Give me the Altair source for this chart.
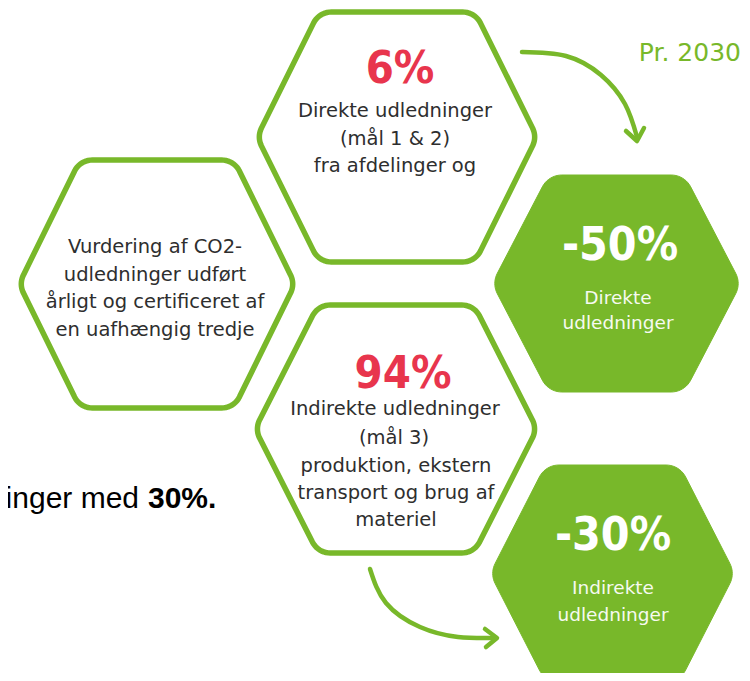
import math
import numpy as np
import pandas as pd
import altair as alt

# ---------------- values (text content of the infographic) ----------------
share_values = ["6%", "94%"]
share_lines = [
    ["Direkte udledninger", "(mål 1 & 2)", "fra afdelinger og"],
    ["Indirekte udledninger", "(mål 3)", "produktion, ekstern", "transport og brug af", "materiel"],
]
target_values = ["-50%", "-30%"]
target_lines = [["Direkte", "udledninger"], ["Indirekte", "udledninger"]]
method_lines = ["Vurdering af CO2-", "udledninger udført", "årligt og certificeret af", "en uafhængig tredje"]
horizon_label = "Pr. 2030"
side_regular = "inger med"
side_bold = "30%."

# ---------------- layout (image pixel coordinates) ----------------
GREEN = "#78b82a"
RED = "#e8354d"
DARK = "#2e2e2e"
WHITE_TXT = "#f6faf0"

# hexagon: (id, cx, cy, half-width, half-top, half-height, corner radius)
outline_hex = [
    ("top", 397, 137, 140, 78, 125, 20),
    ("left", 157, 284, 138, 77, 124, 20),
    ("bottom", 396, 429, 141, 78, 124, 20),
]
filled_hex = [
    ("t50", 616.5, 283.5, 124.5, 68, 108.5, 22),
    ("t30", 612.5, 573.5, 122.5, 67, 108.5, 22),
]


def rounded_poly(verts, r, n=10):
    pts = []
    m = len(verts)
    for i in range(m):
        V = np.array(verts[i], float)
        P = np.array(verts[i - 1], float)
        N = np.array(verts[(i + 1) % m], float)
        u1 = (P - V) / np.linalg.norm(P - V)
        u2 = (N - V) / np.linalg.norm(N - V)
        ang = math.acos(float(np.clip(np.dot(u1, u2), -1, 1)))
        half = ang / 2
        d = r / math.tan(half)
        bis = (u1 + u2) / np.linalg.norm(u1 + u2)
        C = V + bis * (r / math.sin(half))
        T1 = V + u1 * d
        T2 = V + u2 * d
        a1 = math.atan2(T1[1] - C[1], T1[0] - C[0])
        a2 = math.atan2(T2[1] - C[1], T2[0] - C[0])
        da = (a2 - a1 + math.pi) % (2 * math.pi) - math.pi
        for k in range(n + 1):
            a = a1 + da * k / n
            pts.append(C + r * np.array([math.cos(a), math.sin(a)]))
    pts.append(pts[0])
    return pts


def hex_frame(specs):
    rows = []
    for hid, cx, cy, w, t, h, r in specs:
        verts = [(cx - w, cy), (cx - t, cy - h), (cx + t, cy - h),
                 (cx + w, cy), (cx + t, cy + h), (cx - t, cy + h)]
        for k, p in enumerate(rounded_poly(verts, r)):
            rows.append({"hex": hid, "ord": k, "x": float(p[0]), "y": float(p[1])})
    return pd.DataFrame(rows)


df_out = hex_frame(outline_hex)
df_fill = hex_frame(filled_hex)

# arrows (curve guide points + chevron heads)
arrow_curves = {
    "a1": [(522, 52), (566, 56), (601, 75), (625, 104), (637, 137)],
    "a2": [(370, 569), (386, 603), (420, 627), (458, 637), (495, 638)],
}
arrow_heads = {
    "h1": [(626, 131), (637, 141), (644, 128)],
    "h2": [(485, 629), (497, 638), (486, 647)],
}
df_curve = pd.DataFrame([{"id": k, "ord": i, "x": x, "y": y}
                         for k, pts in arrow_curves.items() for i, (x, y) in enumerate(pts)])
df_head = pd.DataFrame([{"id": k, "ord": i, "x": x, "y": y}
                        for k, pts in arrow_heads.items() for i, (x, y) in enumerate(pts)])

# text placement
share_pos = [(400, 83), (403, 388)]
share_line_pos = [[(395, 111), (395, 139), (395, 166)],
                  [(395, 409), (394, 438), (396, 466), (396, 493), (396, 520)]]
target_pos = [(620, 260), (613, 550)]
target_line_pos = [[(618, 298), (618, 323)], [(613, 588), (613, 615)]]
method_pos = [(155, 247), (155, 275), (155, 302), (155, 330)]

rows_big_red = [{"t": v, "x": p[0], "y": p[1]} for v, p in zip(share_values, share_pos)]
rows_big_white = [{"t": v, "x": p[0], "y": p[1]} for v, p in zip(target_values, target_pos)]
rows_dark = []
for lines, poss in zip(share_lines, share_line_pos):
    rows_dark += [{"t": s, "x": p[0], "y": p[1]} for s, p in zip(lines, poss)]
rows_dark += [{"t": s, "x": p[0], "y": p[1]} for s, p in zip(method_lines, method_pos)]
rows_white = []
for lines, poss in zip(target_lines, target_line_pos):
    rows_white += [{"t": s, "x": p[0], "y": p[1]} for s, p in zip(lines, poss)]

W, H = 734, 665
xs = alt.Scale(domain=[8, 8 + W], nice=False, zero=False)
ys = alt.Scale(domain=[8, 8 + H], reverse=True, nice=False, zero=False)
X = alt.X("x:Q", scale=xs, axis=None)
Y = alt.Y("y:Q", scale=ys, axis=None)

outline = alt.Chart(df_out).mark_line(
    stroke=GREEN, strokeWidth=5.5, fill="white", strokeJoin="round", clip=True
).encode(x=X, y=Y, order="ord:Q", detail="hex:N")

filled = alt.Chart(df_fill).mark_line(
    stroke=GREEN, strokeWidth=1, fill=GREEN, strokeJoin="round", clip=True
).encode(x=X, y=Y, order="ord:Q", detail="hex:N")

curves = alt.Chart(df_curve).mark_line(
    stroke=GREEN, strokeWidth=4.5, interpolate="natural", strokeCap="round"
).encode(x=X, y=Y, order="ord:Q", detail="id:N")

heads = alt.Chart(df_head).mark_line(
    stroke=GREEN, strokeWidth=4.5, strokeCap="round", strokeJoin="round"
).encode(x=X, y=Y, order="ord:Q", detail="id:N")

NUM_FONT = "DejaVu Sans Condensed, Roboto Condensed, Roboto, sans-serif"
TXT_FONT = "DejaVu Sans, sans-serif"

big_red = alt.Chart(pd.DataFrame(rows_big_red)).mark_text(
    font=NUM_FONT, fontWeight="bold", fontSize=45, color=RED, baseline="alphabetic", align="center"
).encode(x=X, y=Y, text="t:N")

big_white = alt.Chart(pd.DataFrame(rows_big_white)).mark_text(
    font=NUM_FONT, fontWeight="bold", fontSize=46, color="white", baseline="alphabetic", align="center"
).encode(x=X, y=Y, text="t:N")

dark_txt = alt.Chart(pd.DataFrame(rows_dark)).mark_text(
    font=TXT_FONT, fontSize=19.5, color=DARK, baseline="middle", align="center"
).encode(x=X, y=Y, text="t:N")

white_txt = alt.Chart(pd.DataFrame(rows_white)).mark_text(
    font=TXT_FONT, fontSize=18.5, color=WHITE_TXT, baseline="middle", align="center"
).encode(x=X, y=Y, text="t:N")

horizon = alt.Chart(pd.DataFrame([{"t": horizon_label, "x": 741, "y": 53}])).mark_text(
    font=TXT_FONT, fontSize=25, color=GREEN, baseline="middle", align="right"
).encode(x=X, y=Y, text="t:N")

side_a = alt.Chart(pd.DataFrame([{"t": side_regular, "x": 139, "y": 499}])).mark_text(
    font="Liberation Sans, Arial, sans-serif", fontSize=30, color="black", baseline="middle", align="right"
).encode(x=X, y=Y, text="t:N")

side_b = alt.Chart(pd.DataFrame([{"t": side_bold, "x": 148, "y": 499}])).mark_text(
    font="Liberation Sans, Arial, sans-serif", fontSize=30, fontWeight="bold", color="black",
    baseline="middle", align="left"
).encode(x=X, y=Y, text="t:N")

chart = alt.layer(
    outline, filled, curves, heads, big_red, big_white, dark_txt, white_txt, horizon, side_a, side_b
).properties(
    width=W, height=H, padding=0, autosize=alt.AutoSizeParams(type="none"), background="white"
).configure_view(stroke=None)

chart.save("out.html", embed_options={"renderer": "svg", "actions": False})
